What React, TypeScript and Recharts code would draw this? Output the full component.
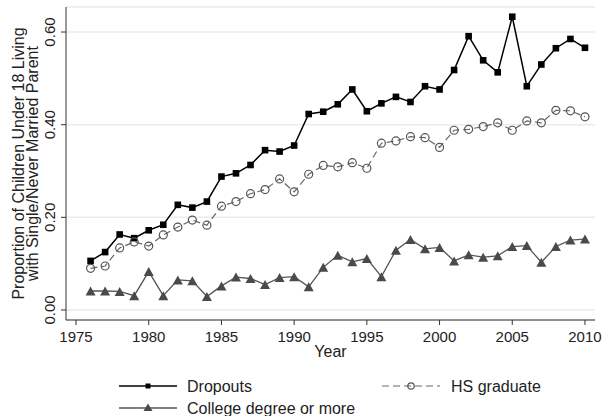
import React from "react"
import {
  LineChart,
  Line,
  XAxis,
  YAxis,
  CartesianGrid,
} from "recharts"

const years = [
  1976, 1977, 1978, 1979, 1980, 1981, 1982, 1983, 1984, 1985, 1986, 1987,
  1988, 1989, 1990, 1991, 1992, 1993, 1994, 1995, 1996, 1997, 1998, 1999,
  2000, 2001, 2002, 2003, 2004, 2005, 2006, 2007, 2008, 2009, 2010,
]

const dropouts = [
  0.106, 0.125, 0.163, 0.155, 0.172, 0.184, 0.227, 0.221, 0.234, 0.288,
  0.295, 0.313, 0.345, 0.342, 0.355, 0.423, 0.428, 0.444, 0.476, 0.429,
  0.446, 0.46, 0.449, 0.483, 0.476, 0.518, 0.591, 0.539, 0.513, 0.633,
  0.483, 0.53, 0.565, 0.585, 0.566,
]

const hsGraduate = [
  0.09, 0.095, 0.134, 0.147, 0.138, 0.162, 0.179, 0.194, 0.183, 0.224,
  0.234, 0.251, 0.26, 0.283, 0.255, 0.293, 0.312, 0.309, 0.318, 0.306,
  0.36, 0.365, 0.374, 0.372, 0.351, 0.388, 0.39, 0.396, 0.404, 0.388,
  0.408, 0.404, 0.431, 0.43, 0.417,
]

const college = [
  0.041, 0.041, 0.04, 0.031, 0.083, 0.031, 0.065, 0.063, 0.029, 0.052,
  0.071, 0.068, 0.055, 0.07, 0.072, 0.05, 0.092, 0.118, 0.104, 0.111,
  0.072, 0.129, 0.152, 0.132, 0.135, 0.106, 0.119, 0.114, 0.117, 0.137,
  0.139, 0.103, 0.137, 0.151, 0.153,
]

const xTicks = [1975, 1980, 1985, 1990, 1995, 2000, 2005, 2010]
const yTicks = [0, 0.2, 0.4, 0.6]

const data = years.map((year, i) => ({
  year,
  dropouts: dropouts[i],
  hs: hsGraduate[i],
  college: college[i],
}))

const FONT = "'Liberation Sans', Arial, Helvetica, sans-serif"

const SquareDot = (props: any) => {
  const { cx, cy, index } = props
  if (cx == null || cy == null) return <g key={index} />
  return <rect key={index} x={cx - 3.3} y={cy - 3.3} width={6.6} height={6.6} fill="#000" />
}

const CircleDot = (props: any) => {
  const { cx, cy, index } = props
  if (cx == null || cy == null) return <g key={index} />
  return <circle key={index} cx={cx} cy={cy} r={4} fill="none" stroke="#555" strokeWidth={1.2} />
}

const TriangleDot = (props: any) => {
  const { cx, cy, index } = props
  if (cx == null || cy == null) return <g key={index} />
  const w = 5
  const h = 4.5
  return (
    <path
      key={index}
      d={`M${cx},${cy - h} L${cx + w},${cy + h} L${cx - w},${cy + h} Z`}
      fill="#4a4a4a"
    />
  )
}

const YTick = (props: any) => {
  const { x, y, payload } = props
  const tx = x - 6
  return (
    <text
      x={tx}
      y={y}
      transform={`rotate(-90, ${tx}, ${y})`}
      textAnchor="middle"
      fontSize={15}
      fontFamily={FONT}
      fill="#222"
    >
      {Number(payload.value).toFixed(2)}
    </text>
  )
}

const YLabel = (props: any) => {
  const vb = props.viewBox || { x: 0, y: 7, width: 66, height: 313 }
  const cy = vb.y + vb.height / 2
  return (
    <g fontSize={16} fontFamily={FONT} fill="#222">
      <text x={24} y={cy} transform={`rotate(-90, 24, ${cy})`} textAnchor="middle">
        Proportion of Children Under 18 Living
      </text>
      <text x={38} y={cy} transform={`rotate(-90, 38, ${cy})`} textAnchor="middle">
        with Single/Never Married Parent
      </text>
    </g>
  )
}

function ChartLegend() {
  return (
    <svg
      width={603}
      height={416}
      style={{ position: "absolute", left: 0, top: 0, pointerEvents: "none" }}
      fontFamily={FONT}
      fontSize={16}
    >
      <line x1={119} y1={386} x2={177} y2={386} stroke="#000" strokeWidth={1.5} />
      <rect x={145.5} y={383.5} width={5} height={5} fill="#000" />
      <text x={187} y={391.5} fill="#222">Dropouts</text>

      <line x1={382} y1={386} x2={440} y2={386} stroke="#666" strokeWidth={1.2} strokeDasharray="7 4" />
      <circle cx={411} cy={386} r={3.2} fill="none" stroke="#555" strokeWidth={1.2} />
      <text x={451} y={391.5} fill="#222">HS graduate</text>

      <line x1={119} y1={408} x2={177} y2={408} stroke="#555" strokeWidth={1.3} />
      <path d="M148,403.5 L152.5,411 L143.5,411 Z" fill="#4a4a4a" />
      <text x={187} y={413.5} fill="#222">College degree or more</text>
    </svg>
  )
}

export default function App() {
  return (
    <div style={{ position: "absolute", left: 0, top: 0, width: 603, height: 416, background: "#fff" }}>
      <LineChart
        width={603}
        height={416}
        data={data}
        margin={{ top: 7, right: 8, left: 0, bottom: 0 }}
      >
        <CartesianGrid
          horizontal
          vertical={false}
          stroke="#e4edef"
          strokeWidth={1.5}
        />
        <XAxis
          dataKey="year"
          type="number"
          domain={[1974.31, 2010.69]}
          ticks={xTicks}
          allowDataOverflow
          height={96}
          tickSize={5}
          tickMargin={6}
          stroke="#333"
          tick={{ fontSize: 15, fontFamily: FONT, fill: "#222" }}
          label={{
            value: "Year",
            position: "insideTop",
            offset: 26,
            fontSize: 16,
            fontFamily: FONT,
            fill: "#222",
          }}
        />
        <YAxis
          type="number"
          domain={[-0.0216, 0.654]}
          ticks={yTicks}
          allowDataOverflow
          width={66}
          tickSize={5}
          tickMargin={0}
          stroke="#333"
          tick={<YTick />}
          label={<YLabel />}
        />
        <Line
          dataKey="dropouts"
          stroke="#000"
          strokeWidth={1.5}
          dot={SquareDot}
          activeDot={false}
          isAnimationActive={false}
        />
        <Line
          dataKey="hs"
          stroke="#666"
          strokeWidth={1.2}
          strokeDasharray="7 4"
          dot={CircleDot}
          activeDot={false}
          isAnimationActive={false}
        />
        <Line
          dataKey="college"
          stroke="#555"
          strokeWidth={1.3}
          dot={TriangleDot}
          activeDot={false}
          isAnimationActive={false}
        />
      </LineChart>
      <ChartLegend />
    </div>
  )
}
